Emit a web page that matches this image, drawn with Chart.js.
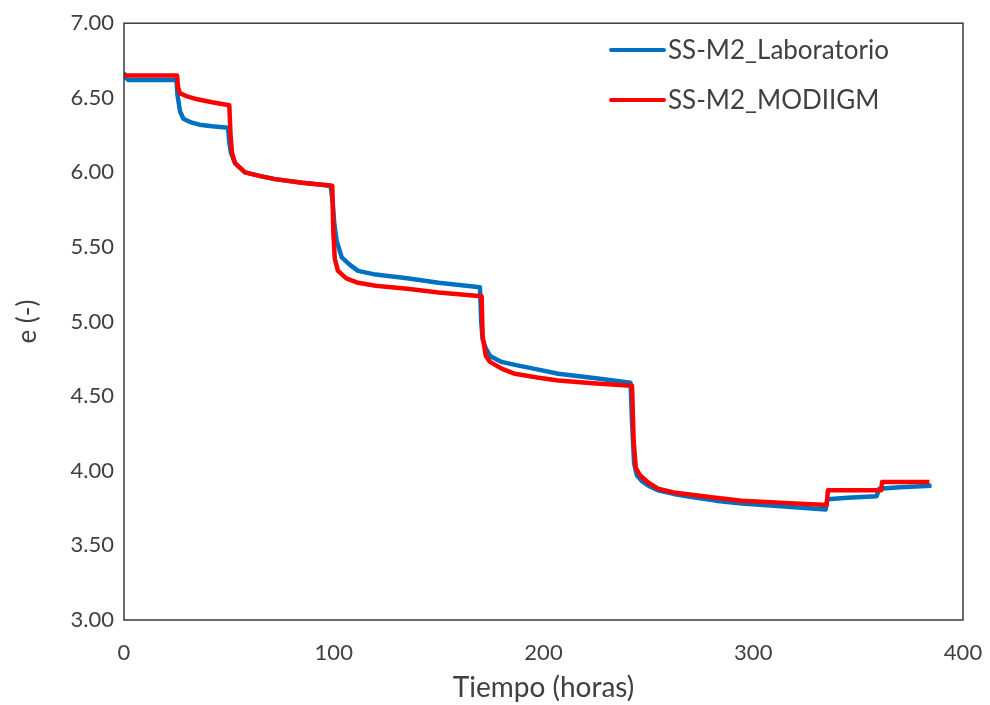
<!DOCTYPE html>
<html lang="es">
<head>
<meta charset="UTF-8">
<title>e vs Tiempo</title>
<script src="https://cdn.jsdelivr.net/npm/chart.js@4.4.1/dist/chart.umd.min.js"></script>
<style>
  html, body { margin: 0; padding: 0; background: #fff; }
  #wrap { width: 990px; height: 705px; }
</style>
</head>
<body>
<div id="wrap"><canvas id="myChart" width="990" height="705"></canvas></div>
<script>
// datos
const labTime = [0, 0.5, 2, 25, 25.5, 26.7, 28.3, 32, 36, 42, 49.6, 50.2, 51, 53, 57.7, 65, 72, 85, 98.5, 99.5, 100.3, 101.4, 103.8, 107.7, 111.6, 120, 135, 150, 169.7, 170.3, 171, 172.5, 174.5, 180, 186.4, 197, 207, 225, 241.5, 242.3, 243.2, 244.5, 247, 250, 254.6, 262, 270.6, 282, 294.5, 315, 334.5, 335.3, 345, 358.8, 360, 370, 385];
const labE    = [6.67, 6.64, 6.62, 6.62, 6.52, 6.41, 6.36, 6.335, 6.32, 6.31, 6.30, 6.20, 6.13, 6.06, 6.00, 5.975, 5.955, 5.93, 5.91, 5.80, 5.65, 5.54, 5.43, 5.38, 5.34, 5.315, 5.29, 5.26, 5.23, 5.00, 4.88, 4.82, 4.77, 4.73, 4.71, 4.68, 4.65, 4.62, 4.59, 4.30, 4.05, 3.97, 3.93, 3.90, 3.87, 3.845, 3.825, 3.80, 3.78, 3.76, 3.74, 3.81, 3.82, 3.83, 3.88, 3.89, 3.90];

const modTime = [0, 25.3, 25.8, 26.7, 30, 35, 42, 50.2, 50.8, 51.5, 53, 57.7, 65, 72, 85, 99.3, 99.8, 100.5, 102, 106, 111.6, 120, 135, 150, 170.5, 171, 172.5, 174.5, 180, 186.4, 197, 207, 225, 242.2, 243, 244, 246, 250, 254.6, 262, 270.6, 282, 294.5, 315, 335, 335.6, 361, 361.4, 384];
const modE    = [6.65, 6.65, 6.57, 6.53, 6.51, 6.49, 6.47, 6.45, 6.25, 6.13, 6.06, 6.00, 5.975, 5.955, 5.93, 5.91, 5.60, 5.42, 5.34, 5.29, 5.26, 5.24, 5.22, 5.195, 5.17, 4.90, 4.77, 4.73, 4.685, 4.65, 4.625, 4.605, 4.585, 4.57, 4.20, 4.02, 3.97, 3.92, 3.88, 3.855, 3.84, 3.82, 3.80, 3.785, 3.77, 3.87, 3.87, 3.925, 3.925];

const seriesNames = ['SS-M2_Laboratorio', 'SS-M2_MODIIGM'];
const xTicks = [0, 100, 200, 300, 400];
const yTicks = [3, 3.5, 4, 4.5, 5, 5.5, 6, 6.5, 7];

const toPoints = (ts, es) => ts.map((t, i) => ({ x: t, y: es[i] }));

const FONT = 'Lato, "DejaVu Sans", sans-serif';
const TXT = '#404040';

// caja del area de grafico + leyenda dentro
const boxLegend = {
   id: 'boxLegend',
   afterDraw(chart) {
      const ctx = chart.ctx;
      const a = chart.chartArea;
      ctx.save();
      ctx.strokeStyle = '#3a3a3a';
      ctx.lineWidth = 1.5;
      ctx.strokeRect(a.left, a.top, a.right - a.left, a.bottom - a.top);

      ctx.font = '26px ' + FONT;
      ctx.textBaseline = 'middle';
      ctx.lineCap = 'round';
      chart.data.datasets.forEach((ds, i) => {
         const y = 50 + i * 50;
         ctx.strokeStyle = ds.borderColor;
         ctx.lineWidth = 4;
         ctx.beginPath();
         ctx.moveTo(611, y);
         ctx.lineTo(664, y);
         ctx.stroke();
         ctx.fillStyle = TXT;
         ctx.fillText(ds.label, 668, y + 1);
      });
      ctx.restore();
   }
};

new Chart(document.getElementById('myChart'), {
   type: 'line',
   data: {
      datasets: [
         {
            label: seriesNames[0],
            data: toPoints(labTime, labE),
            borderColor: '#0070C0',
            borderWidth: 4.5,
            pointRadius: 0,
            tension: 0,
            borderJoinStyle: 'round',
            order: 2
         },
         {
            label: seriesNames[1],
            data: toPoints(modTime, modE),
            borderColor: '#FF0000',
            borderWidth: 4.5,
            pointRadius: 0,
            tension: 0,
            borderJoinStyle: 'round',
            order: 1
         }
      ]
   },
   options: {
      responsive: false,
      animation: false,
      layout: { padding: { top: 22, right: 27, left: 0, bottom: 0 } },
      plugins: {
         legend: { display: false },
         tooltip: { enabled: false }
      },
      scales: {
         x: {
            type: 'linear',
            min: 0,
            max: 400,
            afterBuildTicks: (s) => { s.ticks = xTicks.map(v => ({ value: v })); },
            afterFit: (s) => { s.height = 85; s.paddingLeft = 0; s.paddingRight = 0; },
            grid: { display: false, drawTicks: false },
            border: { display: false },
            ticks: {
               color: TXT,
               font: { family: FONT, size: 22 },
               padding: 20,
               maxRotation: 0
            },
            title: {
               display: true,
               text: 'Tiempo (horas)',
               color: TXT,
               font: { family: FONT, size: 28 },
               padding: { top: 0, bottom: 0 }
            }
         },
         y: {
            type: 'linear',
            min: 3,
            max: 7,
            afterBuildTicks: (s) => { s.ticks = yTicks.map(v => ({ value: v })); },
            afterFit: (s) => { s.width = 124; },
            grid: { display: false, drawTicks: false },
            border: { display: false },
            ticks: {
               color: TXT,
               font: { family: FONT, size: 22 },
               padding: 10,
               callback: (v) => Number(v).toFixed(2)
            },
            title: {
               display: true,
               text: 'e (-)',
               color: TXT,
               font: { family: FONT, size: 26 },
               padding: { top: 12, bottom: 0 }
            }
         }
      }
   },
   plugins: [boxLegend]
});
</script>
</body>
</html>
